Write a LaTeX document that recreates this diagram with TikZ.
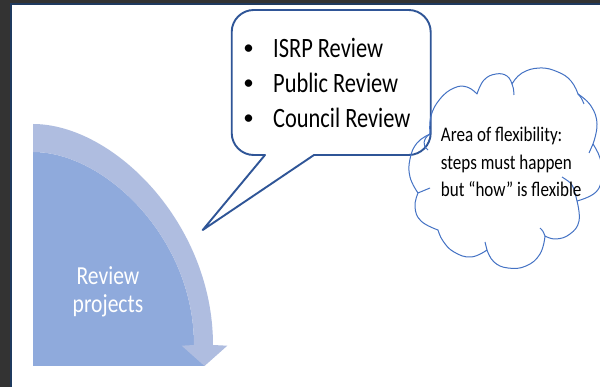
\documentclass[tikz,border=0pt]{standalone}
\usepackage{fontspec}
\setmainfont{Carlito}
\usepackage{graphicx}
\definecolor{bgdark}{HTML}{333333}
\definecolor{framenavy}{HTML}{1F3A5F}
\definecolor{darkfill}{HTML}{8FAADC}
\definecolor{lightband}{HTML}{AFBDE0}
\definecolor{calloutline}{HTML}{2F5597}
\definecolor{cloudline}{HTML}{4472C4}
\newcommand{\narrowtxt}[2][0.8]{\scalebox{#1}[1]{#2}}
\begin{document}
\begin{tikzpicture}[x=1pt,y=-1pt,
  bigtxt/.style={inner sep=0pt, font=\fontsize{28}{34}\selectfont, text=black},
  bullettxt/.style={inner sep=0pt, font=\fontsize{21}{21}\selectfont, text=black},
  whitetxt/.style={inner sep=0pt, font=\fontsize{26}{28}\selectfont, text=white},
  cloudtxt/.style={inner sep=0pt, font=\fontsize{20.8}{27}\selectfont, text=black},
  calloutstyle/.style={draw=calloutline, line width=1.9pt, line join=round},
  cloudstyle/.style={draw=cloudline, line width=1pt, line join=round},
  bump/.style={smooth, tension=0.75}]
\useasboundingbox (0,0) rectangle (600,387);
\fill[bgdark] (0,0) rectangle (600,387);
\fill[framenavy] (10,3) rectangle (600,387);
\fill[white] (12,5) rectangle (600,387);
% curved arrow
\fill[darkfill] (33,152) .. controls (105,152) and (194,238.5) .. (194,345) -- (205,366) -- (33,366) -- cycle;
\fill[lightband] (33,124) .. controls (113,124) and (213,223) .. (213,345) -- (227.3,345.7) -- (204.5,366) -- (181.7,345.7) -- (194,345) .. controls (194,238.5) and (105,152) .. (33,152) -- cycle;
\node[whitetxt, anchor=base] (rev1) at (108,285) {\narrowtxt[0.83]{Review}};
\node[whitetxt, anchor=base] (rev2) at (108,313) {\narrowtxt[0.83]{projects}};
% callout
\draw[calloutstyle] (265,155) -- (253.7,155) .. controls (241.6,155) and (231.7,145.1) .. (231.7,133) -- (231.7,32) .. controls (231.7,19.9) and (241.6,10) .. (253.7,10) -- (408.7,10) .. controls (420.8,10) and (430.7,19.9) .. (430.7,32) -- (430.7,133) .. controls (430.7,145.1) and (420.8,155) .. (408.7,155) -- (314,155) -- (202.7,230) -- cycle;
\node[bullettxt, anchor=base] (b1) at (248.5,57.3) {\raisebox{3.2pt}{•}};
\node[bullettxt, anchor=base] (b2) at (248.5,92.3) {\raisebox{3.2pt}{•}};
\node[bullettxt, anchor=base] (b3) at (248.5,127.7) {\raisebox{3.2pt}{•}};
\node[bigtxt, anchor=base west] (t1) at (273,57.3) {\narrowtxt{ISRP Review}};
\node[bigtxt, anchor=base west] (t2) at (273,92.3) {\narrowtxt{Public Review}};
\node[bigtxt, anchor=base west] (t3) at (273,127.7) {\narrowtxt{Council Review}};
% cloud
\draw[cloudstyle]
  plot[bump] coordinates {(430,134) (431,116) (440,99) (454,88) (467,87) (477,94)}
  -- plot[bump] coordinates {(477,94) (484,80) (496,74) (507,76) (512,84)}
  -- plot[bump] coordinates {(512,84) (522,73) (540,68) (558,72) (571,81) (578,94)}
  -- plot[bump] coordinates {(578,94) (591,106) (597,124) (593,144)}
  -- plot[bump] coordinates {(593,144) (600,158) (602,175) (596,192) (577,201)}
  -- plot[bump] coordinates {(577,201) (579,221) (570,234) (556,239) (545,236)}
  -- plot[bump] coordinates {(545,236) (540,254) (526,266) (508,268) (494,262) (487,250)}
  -- plot[bump] coordinates {(487,250) (471,257) (454,252) (443,241) (438,230)}
  -- plot[bump] coordinates {(438,230) (421,221) (415,207) (418,193)}
  -- plot[bump] coordinates {(418,193) (410,177) (410,159) (417,143) (430,134)};
\draw[cloudstyle] (512,84) .. controls (513.5,88) .. (514,95);
\draw[cloudstyle] (578,94) .. controls (581.5,98) .. (584,104);
\draw[cloudstyle] (593,144) .. controls (591.5,149) .. (589,153);
\draw[cloudstyle] (562,177) .. controls (573,184) .. (577,201);
\draw[cloudstyle] (545,236) .. controls (543,231) .. (540,228);
\draw[cloudstyle] (487,250) .. controls (485.5,246) .. (485,242);
\draw[cloudstyle] (418,193) .. controls (424,190) .. (430,188);
\draw[cloudstyle] (430,134) .. controls (423,138) and (422,147) .. (428,150);
\node[cloudtxt, anchor=base west] (c1) at (440.7,141.7) {\narrowtxt[0.82]{Area of flexibility:}};
\node[cloudtxt, anchor=base west] (c2) at (440.7,170) {\narrowtxt[0.82]{steps must happen}};
\node[cloudtxt, anchor=base west] (c3) at (440.7,196.7) {\narrowtxt[0.82]{but “how” is flexible}};
\end{tikzpicture}
\end{document}
